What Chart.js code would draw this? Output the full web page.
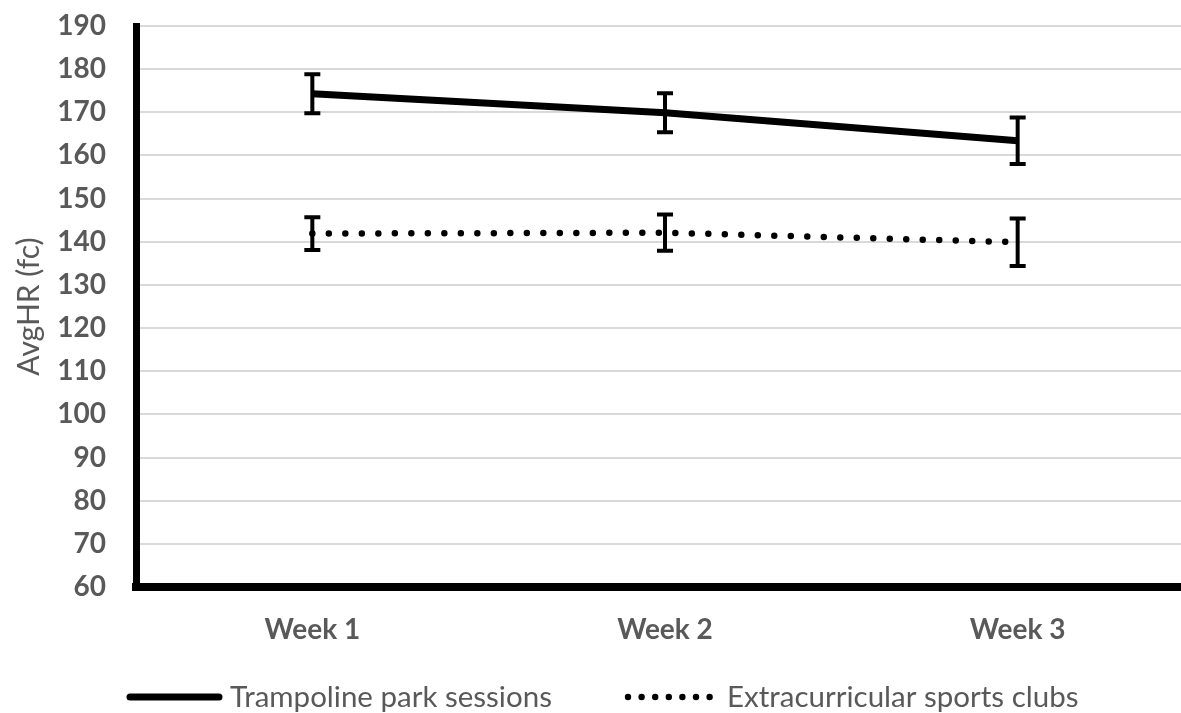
<!DOCTYPE html>
<html>
<head>
<meta charset="utf-8">
<script src="https://cdn.jsdelivr.net/npm/chart.js@4.4.1/dist/chart.umd.min.js"></script>
<style>
  html, body { margin: 0; padding: 0; background: #ffffff; overflow: hidden; }
  #wrap { position: relative; width: 1194px; height: 713px; }
</style>
</head>
<body>
<div id="wrap"><canvas id="c"></canvas></div>
<script>
// ---- data ----
const categories = ["Week 1", "Week 2", "Week 3"];
const seriesNames = ["Trampoline park sessions", "Extracurricular sports clubs"];
const trampolineMean = [174.3, 169.9, 163.4];
const trampolineErr  = [4.5, 4.5, 5.4];
const clubsMean = [141.9, 142.1, 139.9];
const clubsErr  = [3.8, 4.2, 5.5];
const yMin = 60, yMax = 190, yStep = 10;
const yTitle = "AvgHR (fc)";

const gray = "#595959";

const errorBars = {
  id: "errorBars",
  afterDatasetsDraw(chart) {
    const ctx = chart.ctx;
    const ys = chart.scales.y;
    chart.data.datasets.forEach((ds, di) => {
      const meta = chart.getDatasetMeta(di);
      const errs = ds.errors || [];
      meta.data.forEach((pt, i) => {
        const v = ds.data[i], e = errs[i];
        if (e == null) return;
        const x = pt.x;
        const yt = ys.getPixelForValue(v + e);
        const yb = ys.getPixelForValue(v - e);
        ctx.save();
        ctx.strokeStyle = "#000";
        ctx.lineWidth = 4;
        ctx.lineCap = "butt";
        ctx.beginPath();
        ctx.moveTo(x, yt); ctx.lineTo(x, yb);
        ctx.moveTo(x - 8, yt); ctx.lineTo(x + 8, yt);
        ctx.moveTo(x - 8, yb); ctx.lineTo(x + 8, yb);
        ctx.stroke();
        ctx.restore();
      });
    });
  }
};

const customLegend = {
  id: "customLegend",
  afterDraw(chart) {
    const ctx = chart.ctx;
    const y = 697;
    ctx.save();
    // solid sample
    ctx.strokeStyle = "#000";
    ctx.lineWidth = 7;
    ctx.lineCap = "round";
    ctx.beginPath();
    ctx.moveTo(130, y); ctx.lineTo(219, y);
    ctx.stroke();
    // dotted sample
    ctx.fillStyle = "#000";
    for (let k = 0; k < 7; k++) {
      ctx.beginPath();
      ctx.arc(628 + k * 13.6, y, 3.2, 0, Math.PI * 2);
      ctx.fill();
    }
    ctx.fillStyle = gray;
    ctx.font = "29.5px Lato";
    ctx.textBaseline = "middle";
    ctx.textAlign = "left";
    ctx.fillText(chart.data.datasets[0].label, 230, y);
    ctx.fillText(chart.data.datasets[1].label, 727, y);
    ctx.restore();
  }
};

new Chart(document.getElementById("c"), {
  type: "line",
  data: {
    labels: categories,
    datasets: [
      {
        label: seriesNames[0],
        data: trampolineMean,
        errors: trampolineErr,
        borderColor: "#000",
        borderWidth: 7,
        pointRadius: 0,
        tension: 0,
        fill: false
      },
      {
        label: seriesNames[1],
        data: clubsMean,
        errors: clubsErr,
        borderColor: "#000",
        borderWidth: 6.5,
        borderDash: [0, 16.5],
        borderCapStyle: "round",
        pointRadius: 0,
        tension: 0,
        fill: false
      }
    ]
  },
  options: {
    responsive: true,
    maintainAspectRatio: false,
    animation: false,
    layout: { padding: { top: 26, right: 0, bottom: 0, left: 0 } },
    plugins: {
      legend: { display: false },
      tooltip: { enabled: false }
    },
    scales: {
      x: {
        offset: true,
        grid: { display: false, drawTicks: false },
        border: { display: true, color: "#000", width: 8 },
        ticks: {
          color: gray,
          font: { family: "Lato", size: 28, weight: "bold" },
          padding: 26,
          maxRotation: 0
        },
        afterFit(scale) { scale.height = 126; scale.paddingLeft = 0; scale.paddingRight = 0; }
      },
      y: {
        min: yMin,
        max: yMax,
        grid: { color: "#d9d9d9", lineWidth: 2, drawTicks: false },
        border: { display: true, color: "#000", width: 7 },
        ticks: {
          stepSize: yStep,
          color: gray,
          font: { family: "Lato", size: 28, weight: "bold" },
          padding: 30
        },
        title: {
          display: true,
          text: yTitle,
          color: gray,
          font: { family: "Lato", size: 30, weight: "normal" },
          padding: { top: 11, bottom: 0 }
        },
        afterFit(scale) { scale.width = 136; scale.paddingTop = 0; scale.paddingBottom = 0; }
      }
    }
  },
  plugins: [errorBars, customLegend]
});
</script>
</body>
</html>
